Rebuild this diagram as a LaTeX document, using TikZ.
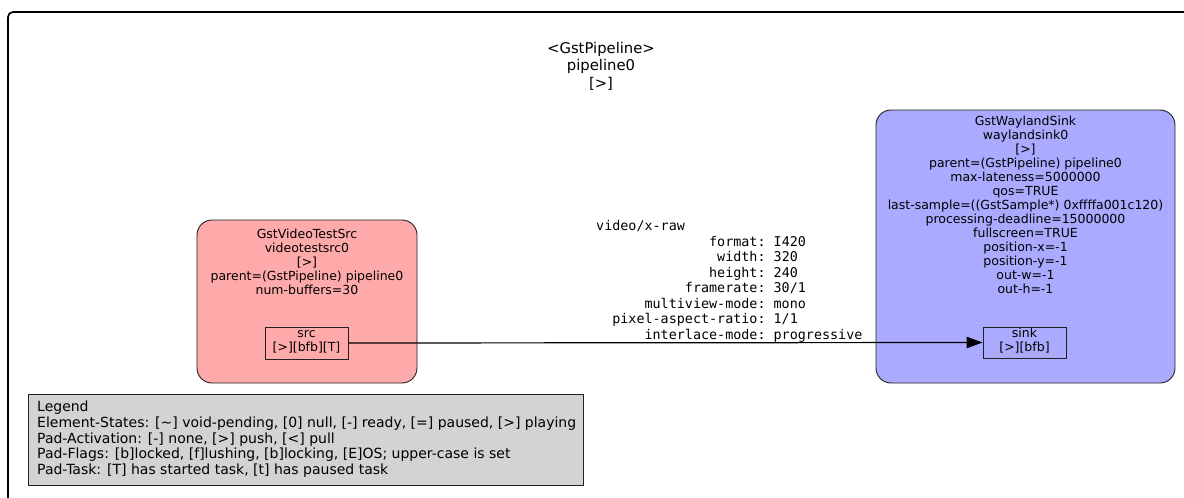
\documentclass[tikz,border=0pt]{standalone}
\usepackage{fontspec}
\setmainfont{DejaVu Sans}
\setmonofont{DejaVu Sans Mono}
\usetikzlibrary{arrows.meta}
\definecolor{srcfill}{HTML}{FFAAAA}
\definecolor{sinkfill}{HTML}{AAAAFF}
\definecolor{legfill}{HTML}{D3D3D3}
\definecolor{edgecol}{HTML}{000000}
\definecolor{linecol}{HTML}{202020}
\tikzset{
  elembox/.style={draw=linecol, line width=0.9pt, rounded corners=15pt, inner sep=0pt},
  padbox/.style={draw=linecol, line width=0.9pt, inner sep=0pt},
  etext/.style={font=\fontsize{12.5pt}{14pt}\selectfont, align=center, inner sep=0pt, anchor=north},
  padtext/.style={font=\fontsize{12.5pt}{14pt}\selectfont, inner sep=0pt, anchor=base},
  titletext/.style={font=\fontsize{14.8pt}{17.5pt}\selectfont, align=center, inner sep=0pt, anchor=north},
  legtext/.style={font=\fontsize{14pt}{15.7pt}\selectfont, align=left, inner sep=0pt, anchor=north west},
  captext/.style={font=\ttfamily\fontsize{13.4pt}{15.5pt}\selectfont, inner sep=0pt, anchor=base west},
  link/.style={line width=1.2pt, draw=edgecol, -{Triangle[length=16pt,width=11.4pt]}}
}
\begin{document}
\begin{tikzpicture}[x=1pt,y=-1pt]
\useasboundingbox (0,0) rectangle (1184,498);
\clip (0,0) rectangle (1184,498);
% outer pipeline frame
\draw[line width=1.7pt, rounded corners=5pt] (1200,12) -- (8,12) -- (8,520);
\node[titletext] (title) at (601,41.8) {<GstPipeline>\\pipeline0\\{[>]}};
% source element
\node[elembox, fill=srcfill, minimum width=220pt, minimum height=163pt] (src) at (307,301.5) {};
\node[etext] (srctext) at (307,228.9) {GstVideoTestSrc\\videotestsrc0\\{[>]}\\parent=(GstPipeline) pipeline0\\num-buffers=30};
\node[padbox, fill=srcfill, minimum width=83pt, minimum height=32pt] (srcpad) at (306.5,343) {};
\node[padtext] (srcpadname) at (306.5,337.5) {src};
\node[padtext] (srcpadstate) at (306.5,351.5) {[>][bfb][T]};
% sink element
\node[elembox, fill=sinkfill, minimum width=299pt, minimum height=273pt] (sink) at (1025.5,246.5) {};
\node[etext] (sinktext) at (1025.5,115.6) {GstWaylandSink\\waylandsink0\\{[>]}\\parent=(GstPipeline) pipeline0\\max-lateness=5000000\\qos=TRUE\\last-sample=((GstSample*) 0xffffa001c120)\\processing-deadline=15000000\\fullscreen=TRUE\\position-x=-1\\position-y=-1\\out-w=-1\\out-h=-1};
\node[padbox, fill=sinkfill, minimum width=83pt, minimum height=31pt] (sinkpad) at (1024.5,342.5) {};
\node[padtext] (sinkpadname) at (1024.5,337.5) {sink};
\node[padtext] (sinkpadstate) at (1024.5,351.5) {[>][bfb]};
% link
\draw[link] (srcpad.east) -- (sinkpad.west);
% caps label
\node[captext] (cap0) at (596,230.5) {video/x-raw};
\node[captext] (cap1) at (596,246.0) {\hphantom{00000000000000}format: I420};
\node[captext] (cap2) at (596,261.5) {\hphantom{000000000000000}width: 320};
\node[captext] (cap3) at (596,277.0) {\hphantom{00000000000000}height: 240};
\node[captext] (cap4) at (596,292.5) {\hphantom{00000000000}framerate: 30/1};
\node[captext] (cap5) at (596,308.0) {\hphantom{000000}multiview-mode: mono};
\node[captext] (cap6) at (596,323.5) {\hphantom{00}pixel-aspect-ratio: 1/1};
\node[captext] (cap7) at (596,339.0) {\hphantom{000000}interlace-mode: progressive};
% legend
\node[draw=linecol, line width=0.9pt, fill=legfill, minimum width=555pt, minimum height=91pt, inner sep=0pt] (legend) at (305.5,439.5) {};
\node[legtext] (legendtext) at (37,400.9) {Legend\\Element-States: [\textasciitilde] void-pending, [0] null, [-] ready, [=] paused, [>] playing\\Pad-Activation: [-] none, [>] push, [<] pull\\Pad-Flags: [b]locked, [f]lushing, [b]locking, [E]OS; upper-case is set\\Pad-Task: [T] has started task, [t] has paused task};
\end{tikzpicture}
\end{document}
